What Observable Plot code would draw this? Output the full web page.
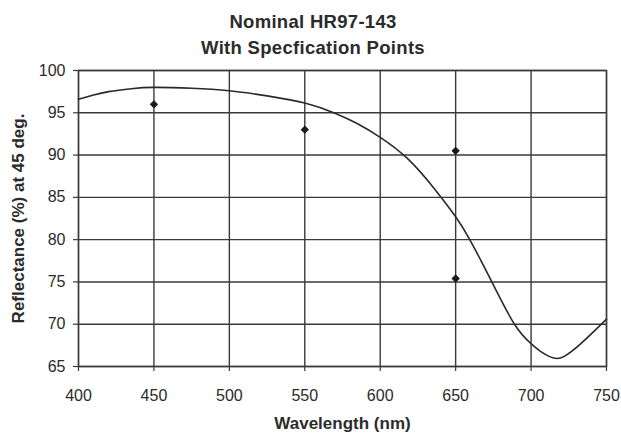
<!DOCTYPE html>
<html>
<head>
<meta charset="utf-8">
<script src="https://cdn.jsdelivr.net/npm/d3@7"></script>
<script src="https://cdn.jsdelivr.net/npm/@observablehq/plot@0.6"></script>
<style>
  html, body { margin: 0; padding: 0; background: #fff; }
  #title {
    width: 621px; height: 60px; box-sizing: border-box;
    padding-top: 9px; padding-left: 5px;
    text-align: center; font-family: "Liberation Sans", Arial, sans-serif;
    font-weight: bold; font-size: 18.5px; line-height: 26px; color: #2b2b2b;
    letter-spacing: 0.3px;
  }
</style>
</head>
<body>
<div id="title">Nominal HR97-143<br>With Specfication Points</div>
<div id="chart"></div>
<script>
// Nominal curve
const wavelength = [400, 410, 420, 435, 450, 475, 500, 525, 550, 570, 585, 600, 618, 636, 650, 660, 674, 689, 700, 707, 715, 722, 733, 750];
const reflectance = [96.6, 97.1, 97.5, 97.85, 98.0, 97.9, 97.6, 97.0, 96.15, 94.95, 93.7, 92.1, 89.6, 86.0, 82.7, 79.8, 75.0, 70.0, 67.7, 66.7, 66.0, 66.2, 67.7, 70.6];
// Specification points
const specWavelength = [450, 550, 650, 650];
const specReflectance = [96.0, 93.0, 90.5, 75.4];
// Ticks
const xTicks = [400, 450, 500, 550, 600, 650, 700, 750];
const yTicks = [65, 70, 75, 80, 85, 90, 95, 100];
const xLabel = "Wavelength (nm)";
const yLabel = "Reflectance (%) at 45 deg.";

const curve = wavelength.map((w, i) => ({w, r: reflectance[i]}));
const spec = specWavelength.map((w, i) => ({w, r: specReflectance[i]}));

const lineColor = "#3a3a3a";
const textColor = "#2b2b2b";

const chart = Plot.plot({
  width: 621,
  height: 377,
  marginTop: 10,
  marginLeft: 78,
  marginRight: 15,
  marginBottom: 71,
  style: {fontFamily: "'Liberation Sans', Arial, sans-serif", fontSize: "16px", color: textColor, background: "#fff"},
  x: {domain: [400, 750]},
  y: {domain: [65, 100]},
  marks: [
    Plot.gridX(xTicks, {stroke: lineColor, strokeOpacity: 1, strokeWidth: 1.4}),
    Plot.gridY(yTicks, {stroke: lineColor, strokeOpacity: 1, strokeWidth: 1.4}),
    Plot.frame({stroke: lineColor, strokeWidth: 1.4}),
    Plot.axisX(xTicks, {tickSize: 5, tickPadding: 18, label: null, stroke: lineColor, strokeWidth: 1.2, fill: textColor, fontSize: 16}),
    Plot.axisY(yTicks, {tickSize: 5, tickPadding: 8, label: null, stroke: lineColor, strokeWidth: 1.2, fill: textColor, fontSize: 16}),
    Plot.line(curve, {x: "w", y: "r", curve: "natural", stroke: "#2a2a2a", strokeWidth: 1.6}),
    Plot.dot(spec, {x: "w", y: "r", symbol: "diamond2", r: 3.3, fill: "#1a1a1a", stroke: "#1a1a1a", strokeWidth: 1}),
    Plot.text([xLabel], {frameAnchor: "bottom", dy: 62, text: d => d, fontWeight: "bold", fontSize: 17, fill: textColor, letterSpacing: 0.2}),
    Plot.text([yLabel], {frameAnchor: "left", textAnchor: "middle", dx: -60, rotate: -90, text: d => d, fontWeight: "bold", fontSize: 17, fill: textColor})
  ]
});
document.getElementById("chart").appendChild(chart);
</script>
</body>
</html>
